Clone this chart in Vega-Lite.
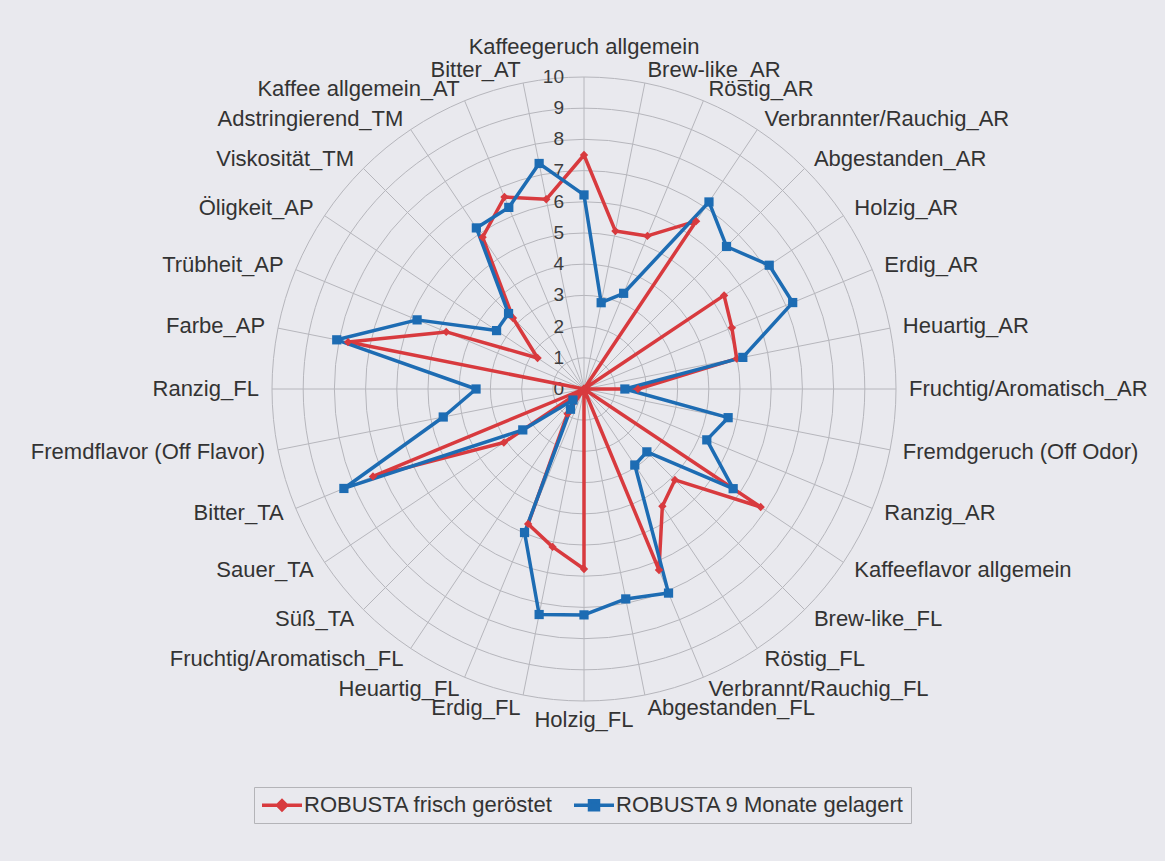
{
  "$schema": "https://vega.github.io/schema/vega-lite/v6.json",
  "width": 624,
  "height": 624,
  "autosize": {"type": "none"},
  "padding": {"left": 272, "top": 77, "right": 269, "bottom": 160},
  "background": "#e9e9ee",
  "config": {"view": {"stroke": null}, "font": "Liberation Sans"},
  "datasets": {
    "sensorik": [
      {"merkmal": "Kaffeegeruch allgemein", "frisch": 7.5, "gelagert": 6.22},
      {"merkmal": "Brew-like_AR", "frisch": 5.16, "gelagert": 2.82},
      {"merkmal": "Röstig_AR", "frisch": 5.31, "gelagert": 3.32},
      {"merkmal": "Verbrannter/Rauchig_AR", "frisch": 6.47, "gelagert": 7.21},
      {"merkmal": "Abgestanden_AR", "frisch": 0, "gelagert": 6.46},
      {"merkmal": "Holzig_AR", "frisch": 5.4, "gelagert": 7.14},
      {"merkmal": "Erdig_AR", "frisch": 5.13, "gelagert": 7.24},
      {"merkmal": "Heuartig_AR", "frisch": 4.99, "gelagert": 5.19},
      {"merkmal": "Fruchtig/Aromatisch_AR", "frisch": 1.73, "gelagert": 1.31},
      {"merkmal": "Fremdgeruch (Off Odor)", "frisch": 0, "gelagert": 4.71},
      {"merkmal": "Ranzig_AR", "frisch": 0, "gelagert": 4.26},
      {"merkmal": "Kaffeeflavor allgemein", "frisch": 6.81, "gelagert": 5.75},
      {"merkmal": "Brew-like_FL", "frisch": 4.12, "gelagert": 2.85},
      {"merkmal": "Röstig_FL", "frisch": 4.52, "gelagert": 2.93},
      {"merkmal": "Verbrannt/Rauchig_FL", "frisch": 6.28, "gelagert": 7.08},
      {"merkmal": "Abgestanden_FL", "frisch": 0, "gelagert": 6.86},
      {"merkmal": "Holzig_FL", "frisch": 5.77, "gelagert": 7.24},
      {"merkmal": "Erdig_FL", "frisch": 5.16, "gelagert": 7.37},
      {"merkmal": "Heuartig_FL", "frisch": 4.68, "gelagert": 4.98},
      {"merkmal": "Fruchtig/Aromatisch_FL", "frisch": 0.95, "gelagert": 0.78},
      {"merkmal": "Süß_TA", "frisch": 0, "gelagert": 0.5},
      {"merkmal": "Sauer_TA", "frisch": 3.09, "gelagert": 2.36},
      {"merkmal": "Bitter_TA", "frisch": 7.32, "gelagert": 8.33},
      {"merkmal": "Fremdflavor (Off Flavor)", "frisch": 0, "gelagert": 4.6},
      {"merkmal": "Ranzig_FL", "frisch": 0, "gelagert": 3.46},
      {"merkmal": "Farbe_AP", "frisch": 7.71, "gelagert": 8.08},
      {"merkmal": "Trübheit_AP", "frisch": 4.78, "gelagert": 5.79},
      {"merkmal": "Öligkeit_AP", "frisch": 1.79, "gelagert": 3.37},
      {"merkmal": "Viskosität_TM", "frisch": 3.22, "gelagert": 3.42},
      {"merkmal": "Adstringierend_TM", "frisch": 5.85, "gelagert": 6.21},
      {"merkmal": "Kaffee allgemein_AT", "frisch": 6.66, "gelagert": 6.3},
      {"merkmal": "Bitter_AT", "frisch": 6.2, "gelagert": 7.37}
    ],
    "skala": [
      {"stufe": 0}, {"stufe": 1}, {"stufe": 2}, {"stufe": 3}, {"stufe": 4}, {"stufe": 5},
      {"stufe": 6}, {"stufe": 7}, {"stufe": 8}, {"stufe": 9}, {"stufe": 10}
    ]
  },
  "layer": [
    {
      "data": {"name": "skala"},
      "transform": [{"filter": "datum.stufe > 0"}],
      "mark": {"type": "point", "shape": "circle", "filled": false, "stroke": "#b6b6bc", "strokeWidth": 1, "opacity": 1},
      "encoding": {
        "x": {"datum": 0, "type": "quantitative", "scale": {"domain": [-10, 10], "nice": false, "zero": false}, "axis": null},
        "y": {"datum": 0, "type": "quantitative", "scale": {"domain": [-10, 10], "nice": false, "zero": false}, "axis": null},
        "size": {"field": "stufe", "type": "quantitative", "scale": {"type": "pow", "exponent": 2, "domain": [0, 10], "range": [0, 389376], "zero": true}, "legend": null}
      }
    },
    {
      "data": {"name": "sensorik"},
      "transform": [
        {"window": [{"op": "row_number", "as": "idx"}]},
        {"calculate": "(datum.idx - 1) * 2 * PI / 32", "as": "winkel"},
        {"calculate": "10 * sin(datum.winkel)", "as": "sx"},
        {"calculate": "10 * cos(datum.winkel)", "as": "sy"}
      ],
      "mark": {"type": "rule", "color": "#b6b6bc", "strokeWidth": 1},
      "encoding": {
        "x": {"field": "sx", "type": "quantitative"},
        "y": {"field": "sy", "type": "quantitative"},
        "x2": {"datum": 0},
        "y2": {"datum": 0}
      }
    },
    {
      "data": {"name": "skala"},
      "mark": {"type": "text", "align": "right", "baseline": "middle", "dx": -20, "fontSize": 19, "color": "#3c3c3c"},
      "encoding": {
        "x": {"datum": 0, "type": "quantitative"},
        "y": {"field": "stufe", "type": "quantitative"},
        "text": {"field": "stufe", "type": "quantitative"}
      }
    },
    {
      "data": {"name": "sensorik"},
      "transform": [
        {"window": [{"op": "row_number", "as": "idx"}]},
        {"calculate": "(datum.idx - 1) * 2 * PI / 32", "as": "winkel"},
        {"fold": ["frisch", "gelagert"], "as": ["serie", "wert"]},
        {"calculate": "datum.wert * sin(datum.winkel)", "as": "px"},
        {"calculate": "datum.wert * cos(datum.winkel)", "as": "py"}
      ],
      "mark": {"type": "line", "interpolate": "linear-closed", "strokeWidth": 3.5, "strokeJoin": "round"},
      "encoding": {
        "x": {"field": "px", "type": "quantitative"},
        "y": {"field": "py", "type": "quantitative"},
        "order": {"field": "idx", "type": "quantitative"},
        "color": {
          "field": "serie",
          "type": "nominal",
          "scale": {"domain": ["frisch", "gelagert"], "range": ["#d83a3e", "#1d6cb3"]},
          "legend": {
            "orient": "none",
            "legendX": -18,
            "legendY": 710,
            "direction": "horizontal",
            "title": null,
            "labelFontSize": 22,
            "labelColor": "#333333",
            "labelLimit": 500,
            "symbolSize": 400,
            "labelOffset": 20,
            "columnPadding": 14,
            "padding": 6,
            "strokeColor": "#b4b4b8",
            "fillColor": "#e9e9ee",
            "labelExpr": "datum.value === 'frisch' ? 'ROBUSTA frisch geröstet' : 'ROBUSTA 9 Monate gelagert'",
            "encode": {
              "symbols": {
                "update": {
                  "shape": {"signal": "datum.value === 'frisch' ? 'M-1,0H3M0.55,0L1,-0.45L1.45,0L1,0.45Z' : 'M-1,0H3M0.55,-0.45H1.45V0.45H0.55Z'"},
                  "fill": {"signal": "datum.value === 'frisch' ? '#d83a3e' : '#1d6cb3'"},
                  "stroke": {"signal": "datum.value === 'frisch' ? '#d83a3e' : '#1d6cb3'"},
                  "strokeWidth": {"value": 3.5},
                  "opacity": {"value": 1}
                }
              }
            }
          }
        }
      }
    },
    {
      "data": {"name": "sensorik"},
      "transform": [
        {"window": [{"op": "row_number", "as": "idx"}]},
        {"calculate": "(datum.idx - 1) * 2 * PI / 32", "as": "winkel"},
        {"calculate": "datum.frisch * sin(datum.winkel)", "as": "px"},
        {"calculate": "datum.frisch * cos(datum.winkel)", "as": "py"}
      ],
      "mark": {"type": "point", "shape": "diamond", "filled": true, "opacity": 1, "size": 70, "color": "#d83a3e"},
      "encoding": {
        "x": {"field": "px", "type": "quantitative"},
        "y": {"field": "py", "type": "quantitative"}
      }
    },
    {
      "data": {"name": "sensorik"},
      "transform": [
        {"window": [{"op": "row_number", "as": "idx"}]},
        {"calculate": "(datum.idx - 1) * 2 * PI / 32", "as": "winkel"},
        {"calculate": "datum.gelagert * sin(datum.winkel)", "as": "px"},
        {"calculate": "datum.gelagert * cos(datum.winkel)", "as": "py"}
      ],
      "mark": {"type": "point", "shape": "square", "filled": true, "opacity": 1, "size": 85, "color": "#1d6cb3"},
      "encoding": {
        "x": {"field": "px", "type": "quantitative"},
        "y": {"field": "py", "type": "quantitative"}
      }
    },
    {
      "data": {"name": "sensorik"},
      "transform": [
        {"window": [{"op": "row_number", "as": "idx"}]},
        {"calculate": "(datum.idx - 1) * 2 * PI / 32", "as": "winkel"},
        {"calculate": "10.42 * sin(datum.winkel)", "as": "lx"},
        {"calculate": "10.42 * cos(datum.winkel)", "as": "ly"},
        {"filter": "sin(datum.winkel) > 0.01"}
      ],
      "mark": {"type": "text", "align": "left", "baseline": "middle", "fontSize": 22, "color": "#333333"},
      "encoding": {
        "x": {"field": "lx", "type": "quantitative"},
        "y": {"field": "ly", "type": "quantitative"},
        "text": {"field": "merkmal", "type": "nominal"}
      }
    },
    {
      "data": {"name": "sensorik"},
      "transform": [
        {"window": [{"op": "row_number", "as": "idx"}]},
        {"calculate": "(datum.idx - 1) * 2 * PI / 32", "as": "winkel"},
        {"calculate": "10.42 * sin(datum.winkel)", "as": "lx"},
        {"calculate": "10.42 * cos(datum.winkel)", "as": "ly"},
        {"filter": "sin(datum.winkel) < -0.01"}
      ],
      "mark": {"type": "text", "align": "right", "baseline": "middle", "fontSize": 22, "color": "#333333"},
      "encoding": {
        "x": {"field": "lx", "type": "quantitative"},
        "y": {"field": "ly", "type": "quantitative"},
        "text": {"field": "merkmal", "type": "nominal"}
      }
    },
    {
      "data": {"name": "sensorik"},
      "transform": [
        {"window": [{"op": "row_number", "as": "idx"}]},
        {"filter": "datum.idx === 1"}
      ],
      "mark": {"type": "text", "align": "center", "baseline": "middle", "dy": -17, "fontSize": 22, "color": "#333333"},
      "encoding": {
        "x": {"datum": 0, "type": "quantitative"},
        "y": {"datum": 10.42, "type": "quantitative"},
        "text": {"field": "merkmal", "type": "nominal"}
      }
    },
    {
      "data": {"name": "sensorik"},
      "transform": [
        {"window": [{"op": "row_number", "as": "idx"}]},
        {"filter": "datum.idx === 17"}
      ],
      "mark": {"type": "text", "align": "center", "baseline": "middle", "dy": 6, "fontSize": 22, "color": "#333333"},
      "encoding": {
        "x": {"datum": 0, "type": "quantitative"},
        "y": {"datum": -10.42, "type": "quantitative"},
        "text": {"field": "merkmal", "type": "nominal"}
      }
    }
  ]
}
